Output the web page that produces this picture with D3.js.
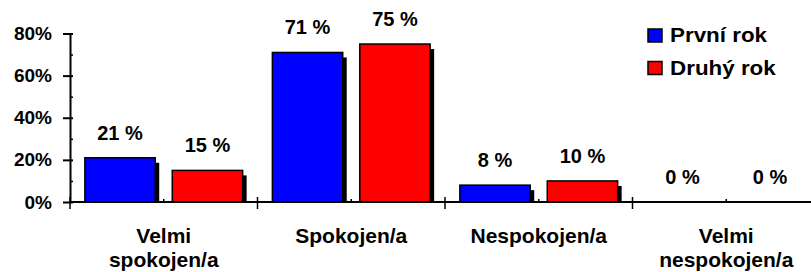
<!DOCTYPE html>
<html>
<head>
    <meta charset="utf-8">
    <title>spokojenost - bar chart</title>
    <script src="https://d3js.org/d3.v7.min.js"></script>
    <style>
        body { margin: 0; background: #fff; }
        text { font-family: "Liberation Sans", Arial, sans-serif; font-weight: bold; fill: #000; }
    </style>
</head>
<body>
    <svg id="chart"></svg>

    <script>
        // data
        var categories = ["Velmi spokojen/a", "Spokojen/a", "Nespokojen/a", "Velmi nespokojen/a"];
        var series = ["První rok", "Druhý rok"];
        var prvniRok = [21, 71, 8, 0];
        var druhyRok = [15, 75, 10, 0];
        var yTicks = [0, 20, 40, 60, 80];
        var yMinorTicks = [10, 30, 50, 70];
        var colors = ["#0000ff", "#ff0000"];

        var values = [prvniRok, druhyRok];

        var width = 811, height = 272;
        var margin = {top: 33.5, left: 70, bottom: 70};

        var svg = d3.select("#chart")
            .attr("width", width)
            .attr("height", height);

        var x = d3.scaleBand()
            .domain(categories)
            .range([margin.left, margin.left + 750])
            .padding(0);

        var xs = d3.scaleBand()
            .domain(series)
            .range([0, x.bandwidth()])
            .paddingInner(0.195)
            .paddingOuter(0.17);

        var y = d3.scaleLinear()
            .domain([0, 80])
            .range([202, margin.top]);

        var rows = [];
        categories.forEach(function(c, i) {
            series.forEach(function(s, j) {
                rows.push({cat: c, ser: s, value: values[j][i], color: colors[j]});
            });
        });

        // shadows then bars
        var barsData = rows.filter(function(d) { return d.value > 0; });

        svg.append("g").selectAll("rect")
            .data(barsData)
            .enter().append("rect")
            .attr("x", function(d) { return x(d.cat) + xs(d.ser) + 4; })
            .attr("y", function(d) { return y(d.value) + 5; })
            .attr("width", xs.bandwidth())
            .attr("height", function(d) { return y(0) - y(d.value) - 5; })
            .attr("fill", "#000");

        svg.append("g").selectAll("rect")
            .data(barsData)
            .enter().append("rect")
            .attr("x", function(d) { return x(d.cat) + xs(d.ser); })
            .attr("y", function(d) { return y(d.value); })
            .attr("width", xs.bandwidth())
            .attr("height", function(d) { return y(0) - y(d.value); })
            .attr("fill", function(d) { return d.color; })
            .attr("stroke", "#000")
            .attr("stroke-width", 1.5);

        // value labels
        svg.append("g").selectAll("text")
            .data(rows)
            .enter().append("text")
            .attr("x", function(d) { return x(d.cat) + xs(d.ser) + xs.bandwidth() / 2; })
            .attr("y", function(d) { return y(d.value) - 18; })
            .attr("text-anchor", "middle")
            .style("font-size", "20px")
            .text(function(d) { return d.value + " %"; });

        // y axis
        var yAxis = d3.axisLeft(y)
            .tickValues(yTicks)
            .tickFormat(function(d) { return d + "%"; })
            .tickSizeInner(7)
            .tickSizeOuter(0)
            .tickPadding(11);

        var gy = svg.append("g")
            .attr("transform", "translate(" + margin.left + ",0)")
            .call(yAxis);
        gy.select(".domain").attr("stroke", "#000").attr("stroke-width", 2);
        gy.selectAll(".tick line").attr("x1", 3).attr("stroke-width", 2);
        gy.selectAll(".tick text")
            .style("font-size", "19px")
            .style("font-family", "'Liberation Sans', Arial, sans-serif")
            .style("font-weight", "bold")
            .attr("fill", "#000");

        var gyMinor = svg.append("g")
            .attr("transform", "translate(" + margin.left + ",0)")
            .call(d3.axisRight(y).tickValues(yMinorTicks).tickSize(3).tickFormat(""));
        gyMinor.select(".domain").remove();
        gyMinor.selectAll(".tick line").attr("stroke-width", 1.5);

        // x axis
        var gx = svg.append("g");
        gx.append("line")
            .attr("x1", margin.left).attr("x2", width)
            .attr("y1", y(0)).attr("y2", y(0))
            .attr("stroke", "#000").attr("stroke-width", 2);

        gx.selectAll(".bound")
            .data(categories)
            .enter().append("line")
            .attr("class", "bound")
            .attr("x1", function(d) { return x(d); })
            .attr("x2", function(d) { return x(d); })
            .attr("y1", y(0) - 5).attr("y2", y(0) + 7)
            .attr("stroke", "#000").attr("stroke-width", 1.5);

        gx.selectAll(".mid")
            .data(categories)
            .enter().append("line")
            .attr("class", "mid")
            .attr("x1", function(d) { return x(d) + x.bandwidth() / 2; })
            .attr("x2", function(d) { return x(d) + x.bandwidth() / 2; })
            .attr("y1", y(0) - 3).attr("y2", y(0))
            .attr("stroke", "#000").attr("stroke-width", 1.5);

        // category labels, split in two lines when needed
        var catLabels = gx.selectAll(".cat")
            .data(categories)
            .enter().append("text")
            .attr("class", "cat")
            .attr("text-anchor", "middle")
            .style("font-size", "21px");

        catLabels.each(function(d) {
            var words = d.split(" ");
            var t = d3.select(this);
            words.forEach(function(w, i) {
                t.append("tspan")
                    .attr("x", x(d) + x.bandwidth() / 2)
                    .attr("y", 243 + i * 24)
                    .text(w);
            });
        });

        // legend
        var legend = svg.append("g")
            .attr("transform", "translate(648,29)");

        var items = legend.selectAll("g")
            .data(series)
            .enter().append("g")
            .attr("transform", function(d, i) { return "translate(0," + (i * 32.5) + ")"; });

        items.append("rect")
            .attr("width", 14).attr("height", 13)
            .attr("fill", function(d, i) { return colors[i]; })
            .attr("stroke", "#000").attr("stroke-width", 1.5);

        items.append("text")
            .attr("transform", "translate(22,13) scale(1.12,1)")
            .style("font-size", "20px")
            .text(function(d) { return d; });
    </script>
</body>
</html>
